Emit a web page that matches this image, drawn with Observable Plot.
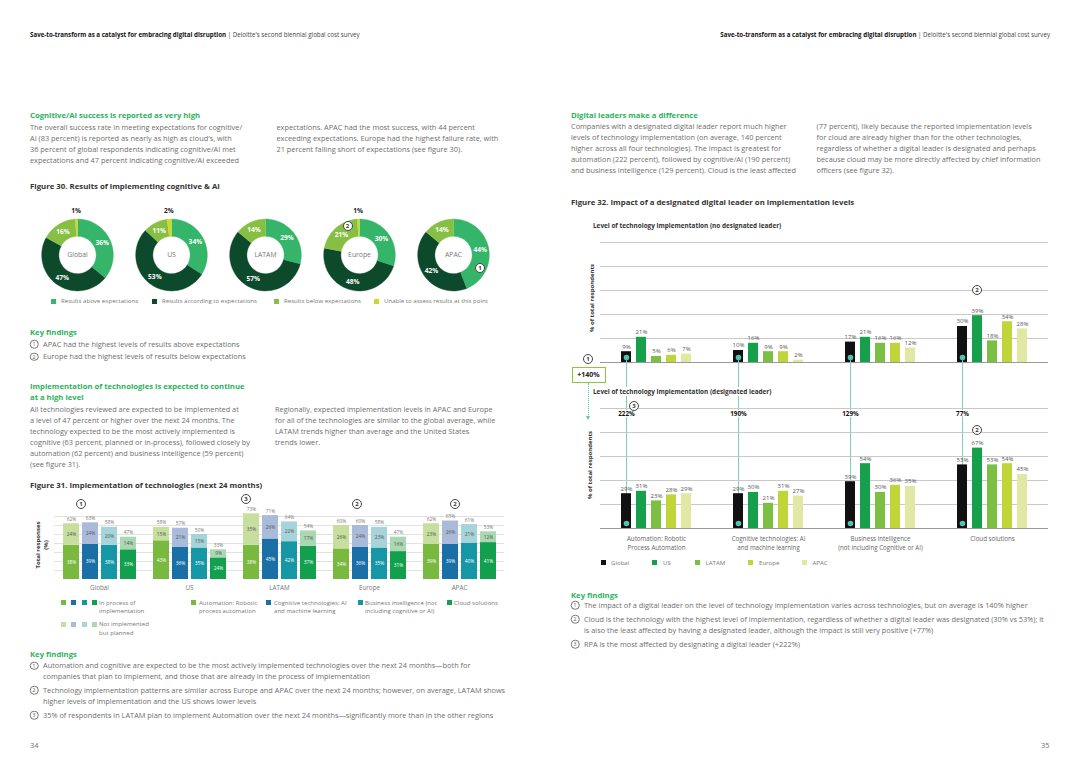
<!DOCTYPE html>
<html><head><meta charset="utf-8">
<script src="https://cdn.jsdelivr.net/npm/d3@7"></script>
<script src="https://cdn.jsdelivr.net/npm/@observablehq/plot@0.6"></script>
<style>
body{margin:0;width:1080px;height:764px;position:relative;background:#fff;font-family:"Open Sans",sans-serif;overflow:hidden}
.a{position:absolute;white-space:nowrap}
.hdr{font-size:6.2px;color:#444;top:29.5px}
.hdr b{color:#111}
.p{font-size:7.35px;color:#6e6e6e;line-height:11px}
.h{font-size:7.7px;color:#2bb35c;font-weight:700;line-height:11px}
.fig{font-size:7.8px;color:#333;font-weight:700}
.c{position:absolute;width:8px;height:8px;border:0.8px solid #444;border-radius:50%;font-size:6px;line-height:8px;text-align:center;color:#333;background:#fff;font-weight:700;transform:translate(-50%,-50%)}
.ck{position:absolute;width:6.5px;height:6.5px;border:0.7px solid #777;border-radius:50%;font-size:5px;line-height:6.5px;text-align:center;color:#555;transform:translate(-50%,-50%)}
.lg{font-size:6.1px;color:#777;line-height:8.5px}
.sq{position:absolute;width:5px;height:5px}
.ylab{font-size:6px;color:#333;font-weight:700;transform:translate(-50%,-50%) rotate(-90deg);text-align:center;line-height:8px}
.plot{position:absolute}
</style>
</head><body>

<div class="a hdr" style="left:30px"><b>Save-to-transform as a catalyst for embracing digital disruption</b> | Deloitte's second biennial global cost survey</div>
<div class="a hdr" style="right:30px"><b>Save-to-transform as a catalyst for embracing digital disruption</b> | Deloitte's second biennial global cost survey</div>

<!-- LEFT PAGE -->
<div class="a h" style="left:30px;top:110px">Cognitive/AI success is reported as very high</div>
<div class="a p" style="left:30px;top:121.5px">The overall success rate in meeting expectations for cognitive/<br>AI (83 percent) is reported as nearly as high as cloud's, with<br>36 percent of global respondents indicating cognitive/AI met<br>expectations and 47 percent indicating cognitive/AI exceeded</div>
<div class="a p" style="left:276.5px;top:121.5px">expectations. APAC had the most success, with 44 percent<br>exceeding expectations. Europe had the highest failure rate, with<br>21 percent falling short of expectations (see figure 30).</div>
<div class="a fig" style="left:30px;top:180.5px">Figure 30. Results of implementing cognitive &amp; AI</div>

<div id="f30" class="plot" style="left:20px;top:206px"></div>
<div class="c" style="left:347.5px;top:226px">2</div>
<div class="c" style="left:480px;top:268px">1</div>

<div class="sq" style="left:51px;top:298.5px;background:#34b56a"></div><div class="a lg" style="left:61px;top:297px">Results above expectations</div>
<div class="sq" style="left:152px;top:298.5px;background:#0c4a2b"></div><div class="a lg" style="left:162px;top:297px">Results according to expectations</div>
<div class="sq" style="left:274px;top:298.5px;background:#86bf43"></div><div class="a lg" style="left:284px;top:297px">Results below expectations</div>
<div class="sq" style="left:374px;top:298.5px;background:#c9d92e"></div><div class="a lg" style="left:384px;top:297px">Unable to assess results at this point</div>

<div class="a h" style="left:30px;top:327px">Key findings</div>
<div class="ck" style="left:34px;top:344px">1</div><div class="a p" style="left:43px;top:338.5px">APAC had the highest levels of results above expectations</div>
<div class="ck" style="left:34px;top:356.5px">2</div><div class="a p" style="left:43px;top:351px">Europe had the highest levels of results below expectations</div>

<div class="a h" style="left:30px;top:381px">Implementation of technologies is expected to continue<br>at a high level</div>
<div class="a p" style="left:30px;top:403.5px">All technologies reviewed are expected to be implemented at<br>a level of 47 percent or higher over the next 24 months. The<br>technology expected to be the most actively implemented is<br>cognitive (63 percent, planned or in-process), followed closely by<br>automation (62 percent) and business intelligence (59 percent)<br>(see figure 31).</div>
<div class="a p" style="left:275px;top:404px">Regionally, expected implementation levels in APAC and Europe<br>for all of the technologies are similar to the global average, while<br>LATAM trends higher than average and the United States<br>trends lower.</div>

<div class="a fig" style="left:30px;top:479.5px">Figure 31. Implementation of technologies (next 24 months)</div>
<div class="a ylab" style="left:42px;top:545px">Total responses<br>(%)</div>
<div id="f31" class="plot" style="left:20px;top:496px"></div>
<div class="c" style="left:81px;top:504px">1</div>
<div class="c" style="left:246px;top:499px">3</div>
<div class="c" style="left:357px;top:504px">2</div>
<div class="c" style="left:455px;top:504px">2</div>

<div class="sq" style="left:61px;top:600px;background:#7ab93f"></div>
<div class="sq" style="left:71px;top:600px;background:#1a6fa6"></div>
<div class="sq" style="left:81.5px;top:600px;background:#1597a6"></div>
<div class="sq" style="left:91.5px;top:600px;background:#12a04f"></div>
<div class="a lg" style="left:99px;top:598.5px">In process of<br>implementation</div>
<div class="sq" style="left:61px;top:621.5px;background:#c6df9f"></div>
<div class="sq" style="left:71px;top:621.5px;background:#a9bbd9"></div>
<div class="sq" style="left:81.5px;top:621.5px;background:#a7d3da"></div>
<div class="sq" style="left:91.5px;top:621.5px;background:#a9d8b2"></div>
<div class="a lg" style="left:99px;top:620px">Not implemented<br>but planned</div>
<div class="sq" style="left:191px;top:600px;background:#7ab93f"></div><div class="a lg" style="left:199px;top:598.5px">Automation: Robotic<br>process automation</div>
<div class="sq" style="left:266px;top:600px;background:#1a6fa6"></div><div class="a lg" style="left:274px;top:598.5px">Cognitive technologies: AI<br>and machine learning</div>
<div class="sq" style="left:357.5px;top:600px;background:#1597a6"></div><div class="a lg" style="left:365px;top:598.5px">Business intelligence (not<br>including cognitive or AI)</div>
<div class="sq" style="left:446.5px;top:600px;background:#12a04f"></div><div class="a lg" style="left:454px;top:598.5px">Cloud solutions</div>

<div class="a h" style="left:30px;top:648.5px">Key findings</div>
<div class="ck" style="left:34px;top:665.5px">1</div><div class="a p" style="left:43px;top:660px">Automation and cognitive are expected to be the most actively implemented technologies over the next 24 months—both for<br>companies that plan to implement, and those that are already in the process of implementation</div>
<div class="ck" style="left:34px;top:690px">2</div><div class="a p" style="left:43px;top:684.5px">Technology implementation patterns are similar across Europe and APAC over the next 24 months; however, on average, LATAM shows<br>higher levels of implementation and the US shows lower levels</div>
<div class="ck" style="left:34px;top:715px">3</div><div class="a p" style="left:43px;top:709.5px">35% of respondents in LATAM plan to implement Automation over the next 24 months—significantly more than in the other regions</div>

<div class="a p" style="left:30px;top:740px">34</div>

<!-- RIGHT PAGE -->
<div class="a h" style="left:571px;top:109.5px">Digital leaders make a difference</div>
<div class="a p" style="left:571px;top:120.5px">Companies with a designated digital leader report much higher<br>levels of technology implementation (on average, 140 percent<br>higher across all four technologies). The impact is greatest for<br>automation (222 percent), followed by cognitive/AI (190 percent)<br>and business intelligence (129 percent). Cloud is the least affected</div>
<div class="a p" style="left:816.5px;top:120.5px">(77 percent), likely because the reported implementation levels<br>for cloud are already higher than for the other technologies,<br>regardless of whether a digital leader is designated and perhaps<br>because cloud may be more directly affected by chief information<br>officers (see figure 32).</div>
<div class="a fig" style="left:571px;top:197px">Figure 32. Impact of a designated digital leader on implementation levels</div>

<div class="a fig" style="left:593px;top:221px;font-size:6.4px">Level of technology implementation (no designated leader)</div>
<div class="a ylab" style="left:592px;top:298px">% of total respondents</div>
<div id="f32a" class="plot" style="left:560px;top:232px;z-index:1"></div>
<div class="c" style="left:977px;top:290px;z-index:3">2</div>
<div class="c" style="left:588px;top:359px">1</div>
<div class="a" style="left:571.5px;top:366.5px;width:32px;height:14px;border:1px solid #8cc63f;font-size:7px;font-weight:700;color:#222;line-height:14px;text-align:center">+140%</div>
<div class="a" style="left:587.5px;top:383px;height:34px;border-left:1px dotted #5cc5b5"></div>
<div class="a" style="left:585.5px;top:416px;width:0;height:0;border-left:2.5px solid transparent;border-right:2.5px solid transparent;border-top:4px solid #5cc5b5"></div>

<div class="a fig" style="left:593px;top:387px;font-size:6.4px;background:#fff;z-index:3;padding-right:2px">Level of technology implementation (designated leader)</div>
<div class="a ylab" style="left:590px;top:465px">% of total respondents</div>
<div id="f32b" class="plot" style="left:560px;top:399px;z-index:2"></div>
<div class="c" style="left:634px;top:406px;z-index:3">3</div>
<div class="c" style="left:977px;top:430px;z-index:3">2</div>

<div class="sq" style="left:600.5px;top:560px;background:#111"></div><div class="a lg" style="left:611px;top:558.5px">Global</div>
<div class="sq" style="left:652px;top:560px;background:#17a04b"></div><div class="a lg" style="left:663px;top:558.5px">US</div>
<div class="sq" style="left:695px;top:560px;background:#7bbf43"></div><div class="a lg" style="left:705.5px;top:558.5px">LATAM</div>
<div class="sq" style="left:748px;top:560px;background:#c0d53a"></div><div class="a lg" style="left:759px;top:558.5px">Europe</div>
<div class="sq" style="left:802px;top:560px;background:#e1e8a4"></div><div class="a lg" style="left:812.5px;top:558.5px">APAC</div>

<div class="a h" style="left:571px;top:589.5px">Key findings</div>
<div class="ck" style="left:575px;top:605px">1</div><div class="a p" style="left:584px;top:599.5px">The impact of a digital leader on the level of technology implementation varies across technologies, but on average is 140% higher</div>
<div class="ck" style="left:575px;top:619px">2</div><div class="a p" style="left:584px;top:613.5px">Cloud is the technology with the highest level of implementation, regardless of whether a digital leader was designated (30% vs 53%); it<br>is also the least affected by having a designated leader, although the impact is still very positive (+77%)</div>
<div class="ck" style="left:575px;top:644px">3</div><div class="a p" style="left:584px;top:638.5px">RPA is the most affected by designating a digital leader (+222%)</div>

<div class="a p" style="left:1041px;top:740px">35</div>

<script>
// ---------- Figure 30 data ----------
const donutRegions = ["Global", "US", "LATAM", "Europe", "APAC"];
const outcomeCats = ["Results above expectations", "Results according to expectations", "Results below expectations", "Unable to assess results at this point"];
const outcomeColors = ["#34b56a", "#0c4a2b", "#86bf43", "#c9d92e"];
const aboveExp = [36, 34, 29, 30, 44];
const accordingExp = [47, 53, 57, 48, 42];
const belowExp = [16, 11, 14, 21, 14];
const unableExp = [1, 2, 0, 1, 0];

// ---------- Figure 31 data ----------
const implRegions = ["Global", "US", "LATAM", "Europe", "APAC"];
const implTechs = ["Automation", "Cognitive", "Business intelligence", "Cloud"];
const inProcessByRegion = [[38, 39, 38, 33], [43, 36, 35, 24], [38, 45, 42, 37], [34, 36, 35, 31], [39, 39, 40, 41]];
const plannedByRegion = [[24, 24, 20, 14], [15, 21, 15, 9], [35, 26, 22, 17], [26, 24, 23, 16], [23, 26, 21, 12]];
const inProcessColors = ["#7ab93f", "#1a6fa6", "#1597a6", "#12a04f"];
const plannedColors = ["#c6df9f", "#a9bbd9", "#a7d3da", "#a9d8b2"];

// ---------- Figure 32 data ----------
const leaderRegions = ["Global", "US", "LATAM", "Europe", "APAC"];
const leaderColors = ["#111111", "#17a04b", "#7bbf43", "#c0d53a", "#e1e8a4"];
const leaderTechs = ["Automation", "Cognitive", "BI", "Cloud"];
const leaderTechLabels = ["Automation: Robotic\nProcess Automation", "Cognitive technologies: AI\nand machine learning", "Business intelligence\n(not including Cognitive or AI)", "Cloud solutions"];
const noLeader = [[9, 21, 5, 6, 7], [10, 16, 9, 9, 2], [17, 21, 16, 16, 12], [30, 39, 18, 34, 28]];
const withLeader = [[29, 31, 23, 28, 29], [29, 30, 21, 31, 27], [39, 54, 30, 36, 35], [53, 67, 53, 54, 45]];
const leaderUplift = [222, 190, 129, 77];

const baseStyle = {fontFamily: "'Open Sans', sans-serif", fontSize: "6px", background: "transparent", overflow: "visible", color: "#666"};

// ---------- Figure 30: donuts ----------
const ringOuter = 1, ringInner = 0.52;
const ringPts = [], ringLabels = [];
donutRegions.forEach((reg, ri) => {
  const vals = [aboveExp[ri], accordingExp[ri], belowExp[ri], unableExp[ri]];
  const tot = d3.sum(vals);
  let acc = 0;
  vals.forEach((v, ci) => {
    if (!v) return;
    const a0 = acc / tot * 2 * Math.PI, a1 = (acc + v) / tot * 2 * Math.PI;
    acc += v;
    const key = reg + "-" + ci;
    const n = 40;
    for (let k = 0; k <= n; k++) { const a = a0 + (a1 - a0) * k / n; ringPts.push({reg, cat: outcomeCats[ci], key, x: ringOuter * Math.sin(a), y: ringOuter * Math.cos(a)}); }
    for (let k = n; k >= 0; k--) { const a = a0 + (a1 - a0) * k / n; ringPts.push({reg, cat: outcomeCats[ci], key, x: ringInner * Math.sin(a), y: ringInner * Math.cos(a)}); }
    const am = (a0 + a1) / 2, small = v < 5, lr = small ? 1.22 : 0.76;
    ringLabels.push({reg, x: lr * Math.sin(am), y: lr * Math.cos(am), text: v + "%", small});
  });
});

const f30 = Plot.plot({
  width: 490, height: 97, marginLeft: 9, marginRight: 8.5, marginTop: 0, marginBottom: 0,
  style: baseStyle,
  fx: {domain: donutRegions, padding: 0, axis: null},
  x: {domain: [-1.3125, 1.3125], axis: null},
  y: {domain: [-1.35, 1.35], axis: null},
  color: {domain: outcomeCats, range: outcomeColors},
  marks: [
    Plot.line(ringPts, {fx: "reg", x: "x", y: "y", z: "key", fill: "cat", stroke: "cat", strokeWidth: 0.4}),
    Plot.text(ringLabels.filter(d => !d.small), {fx: "reg", x: "x", y: "y", text: "text", fill: "white", fontWeight: 700, fontSize: 6.6}),
    Plot.text(ringLabels.filter(d => d.small), {fx: "reg", x: "x", y: "y", text: "text", fill: "#222", fontWeight: 700, fontSize: 6.6}),
    Plot.text(donutRegions, {fx: d => d, x: d => 0, y: d => 0, text: d => d, fill: "#777", fontSize: 6.8})
  ]
});
document.getElementById("f30").append(f30);

// ---------- Figure 31: stacked bars ----------
const implRows = [];
implRegions.forEach((reg, ri) => implTechs.forEach((t, ti) => {
  const ip = inProcessByRegion[ri][ti], pl = plannedByRegion[ri][ti];
  implRows.push({region: reg, tech: t, inproc: ip, planned: pl, total: ip + pl});
}));
const f31 = Plot.plot({
  width: 490, height: 97, marginLeft: 32, marginRight: 5, marginTop: 11, marginBottom: 14,
  style: {...baseStyle, fontSize: "6.3px", color: "#777"},
  fx: {domain: implRegions, padding: 0, label: null, tickSize: 0, tickPadding: 6, axis: "bottom"},
  x: {domain: implTechs, paddingInner: 0.18, paddingOuter: 0.41, axis: null},
  y: {domain: [0, 80], axis: null},
  color: {domain: [...implTechs.map(t => t + " in"), ...implTechs.map(t => t + " plan")], range: [...inProcessColors, ...plannedColors]},
  marks: [
    Plot.ruleY([10, 20, 30, 40, 50, 60, 70], {stroke: "#e2e2e2"}),
    Plot.barY(implRows, {fx: "region", x: "tech", y1: 0, y2: "inproc", fill: d => d.tech + " in"}),
    Plot.barY(implRows, {fx: "region", x: "tech", y1: "inproc", y2: "total", fill: d => d.tech + " plan"}),
    Plot.text(implRows, {fx: "region", x: "tech", y: "total", dy: -4.5, text: d => d.total + "%", fontSize: 4.8, fill: "#777"}),
    Plot.text(implRows, {fx: "region", x: "tech", y: d => d.inproc + d.planned / 2, text: d => d.planned + "%", fontSize: 4.8, fill: "#555"}),
    Plot.text(implRows, {fx: "region", x: "tech", y: d => d.inproc / 2, text: d => d.inproc + "%", fontSize: 4.8, fill: "white"})
  ]
});
document.getElementById("f31").append(f31);

// ---------- Figure 32: digital leader ----------
function leaderRows(table) {
  return leaderTechs.flatMap((t, ti) => leaderRegions.map((r, ri) => ({tech: t, region: r, value: table[ti][ri]})));
}
const topRows = leaderRows(noLeader);
const botRows = leaderRows(withLeader);
const leaderScales = {
  fx: {domain: leaderTechs, padding: 0, axis: null},
  x: {domain: leaderRegions, paddingInner: 0.3125, paddingOuter: 1.18, axis: null},
  y: {domain: [0, 100], axis: null},
  color: {domain: leaderRegions, range: leaderColors}
};
const f32a = Plot.plot({
  width: 500, height: 132, marginLeft: 38, marginRight: 11, marginTop: 10, marginBottom: 2,
  style: baseStyle, ...leaderScales,
  marks: [
    Plot.ruleY([20, 40, 60, 80, 100], {stroke: "#c9c9c9"}),
    Plot.ruleY([0], {stroke: "#9a9a9a"}),
    Plot.barY(topRows, {fx: "tech", x: "region", y: "value", fill: "region"}),
    Plot.text(topRows, {fx: "tech", x: "region", y: "value", dy: -5, text: d => d.value + "%", fontSize: 6, fill: "#555"}),
    Plot.ruleX(topRows.filter(d => d.region === "Global"), {fx: "tech", x: "region", y1: 0, y2: 0, insetTop: -5, insetBottom: -161, stroke: "#7fd0c3", strokeWidth: 1}),
    Plot.dot(topRows.filter(d => d.region === "Global"), {fx: "tech", x: "region", y: 0, dy: -5, r: 2.8, fill: "#55c1b1"})
  ]
});
document.getElementById("f32a").append(f32a);

const upliftRows = leaderTechs.map((t, i) => ({tech: t, region: "Global", label: leaderUplift[i] + "%"}));
const techLabelRows = leaderTechs.map((t, i) => ({tech: t, label: leaderTechLabels[i]}));
const f32b = Plot.plot({
  width: 500, height: 153, marginLeft: 38, marginRight: 11, marginTop: 9, marginBottom: 24,
  style: baseStyle, ...leaderScales,
  marks: [
    Plot.ruleY([20, 40, 60, 80, 100], {stroke: "#c9c9c9"}),
    Plot.ruleY([0], {stroke: "#9a9a9a"}),
    Plot.barY(botRows, {fx: "tech", x: "region", y: "value", fill: "region"}),
    Plot.text(botRows, {fx: "tech", x: "region", y: "value", dy: -5, text: d => d.value + "%", fontSize: 6, fill: "#555"}),
    Plot.dot(botRows.filter(d => d.region === "Global"), {fx: "tech", x: "region", y: 0, dy: -5, r: 2.8, fill: "#55c1b1"}),
    Plot.text(upliftRows, {fx: "tech", x: "region", y: 100, dy: 5.5, text: "label", fontSize: 6.3, fontWeight: 700, fill: "#111", stroke: "white", strokeWidth: 2}),
    Plot.text(techLabelRows, {fx: "tech", frameAnchor: "bottom", dy: 6, lineAnchor: "top", lineHeight: 1.45, text: "label", fontSize: 6.2, fill: "#666"})
  ]
});
document.getElementById("f32b").append(f32b);
</script>
</body></html>
